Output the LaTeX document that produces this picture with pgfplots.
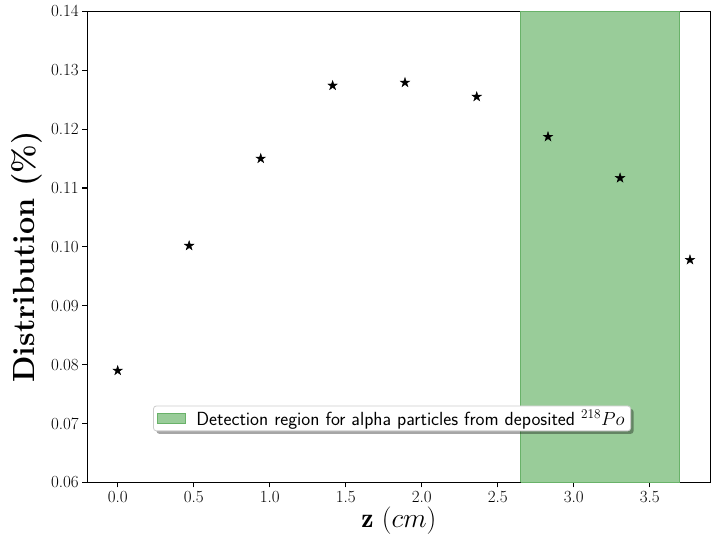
\documentclass[border=0pt]{standalone}
\usepackage{fix-cm}
\usepackage{fontspec}
\usepackage{pgfplots}
\pgfplotsset{compat=1.18}
\usetikzlibrary{shadows}
\makeatletter
\tikzset{no preactions/.code={\let\tikz@preactions\pgfutil@empty}}
\makeatother
\definecolor{bandfill}{RGB}{153,204,153}
\definecolor{bandedge}{RGB}{105,178,105}
\pgfdeclareplotmark{fstar}{%
  \pgfpathmoveto{\pgfpointpolar{90}{\pgfplotmarksize}}%
  \pgfpathlineto{\pgfpointpolar{126}{0.382\pgfplotmarksize}}%
  \pgfpathlineto{\pgfpointpolar{162}{\pgfplotmarksize}}%
  \pgfpathlineto{\pgfpointpolar{198}{0.382\pgfplotmarksize}}%
  \pgfpathlineto{\pgfpointpolar{234}{\pgfplotmarksize}}%
  \pgfpathlineto{\pgfpointpolar{270}{0.382\pgfplotmarksize}}%
  \pgfpathlineto{\pgfpointpolar{306}{\pgfplotmarksize}}%
  \pgfpathlineto{\pgfpointpolar{342}{0.382\pgfplotmarksize}}%
  \pgfpathlineto{\pgfpointpolar{18}{\pgfplotmarksize}}%
  \pgfpathlineto{\pgfpointpolar{54}{0.382\pgfplotmarksize}}%
  \pgfpathclose
  \pgfusepathqfillstroke}
\begin{document}
\begin{tikzpicture}
\begin{axis}[
  scale only axis,
  width=623.2pt, height=471.2pt,
  xmin=-0.2, xmax=3.9, ymin=0.06, ymax=0.14,
  xtick={0,0.5,...,3.5},
  ytick={0.06,0.07,...,0.14},
  tick pos=left,
  tick align=outside,
  major tick length=5pt,
  every tick/.style={black, line width=1.1pt},
  axis line style={black, line width=1.1pt},
  xticklabel style={/pgf/number format/.cd, fixed, fixed zerofill, precision=1},
  yticklabel style={/pgf/number format/.cd, fixed, fixed zerofill, precision=2},
  /pgf/number format/assume math mode=true,
  tick label style={font=\fontsize{17}{20}\selectfont},
  xlabel={$\mathbf{z}$ $(cm)$},
  ylabel={\textbf{Distribution (\%)}},
  xlabel style={font=\fontsize{27.5}{31}\selectfont, at={(rel axis cs:0.5,0)}, anchor=base, yshift=-44.7pt},
  ylabel style={font=\fontsize{30.6}{34}\selectfont, at={(rel axis cs:0,0.5)}, anchor=base, yshift=52.3pt, xshift=-10pt},
  legend style={at={(rel axis cs:0.489,0.136)}, anchor=center,
    font=\sffamily\fontsize{19}{22}\selectfont,
    draw={rgb,255:red,204;green,204;blue,204}, line width=0.8pt,
    rounded corners=3pt, fill=white,
    drop shadow={shadow xshift=3pt, shadow yshift=-3pt, fill=black, opacity=0.35},
    inner xsep=4pt, inner ysep=2pt},
  legend cell align=left,
  legend image code/.code={\draw[no preactions, #1, line width=0.8pt, sharp corners] (2pt,-5pt) rectangle (30pt,5pt); \path (38pt,0pt);},
]
\addplot[fill=bandfill, draw=bandedge, line width=1pt]
  coordinates {(2.653,0.06) (2.653,0.14) (3.699,0.14) (3.699,0.06) (2.653,0.06)};
\addlegendentry{Detection region for alpha particles from deposited $^{218}Po$}
\addplot[only marks, mark=fstar, mark size=5pt, mark options={fill=black, draw=black, line width=0.4pt}, forget plot]
  coordinates {
  (0.000,0.0790)
  (0.470,0.1002)
  (0.941,0.1150)
  (1.414,0.1274)
  (1.890,0.1279)
  (2.362,0.1255)
  (2.831,0.1187)
  (3.305,0.1117)
  (3.765,0.0978)
  };
\coordinate (sw) at (rel axis cs:0,0);
\coordinate (ne) at (rel axis cs:1,1);
\end{axis}
\pgfresetboundingbox
\path[use as bounding box] ([xshift=-87.3pt,yshift=-64.7pt]sw) rectangle ([xshift=0.5pt,yshift=11.3pt]ne);
\end{tikzpicture}
\end{document}
